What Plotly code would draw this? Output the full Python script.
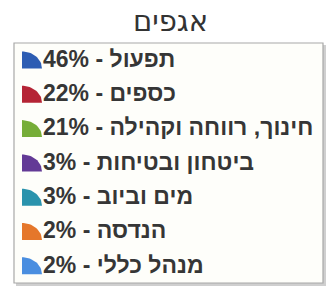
import math
import plotly.graph_objects as go

# ---- data ----
title_text = "אגפים"
categories = ["תפעול", "כספים", "חינוך, רווחה וקהילה", "ביטחון ובטיחות", "מים וביוב", "הנדסה", "מנהל כללי"]
shares = [46, 22, 21, 3, 3, 2, 2]
colors = ["#2d5db3", "#b52435", "#76ad38", "#633a96", "#2a93ad", "#e5772b", "#4a8ee0"]

W, H = 328, 289
row0, row_step = 61, 34.3
icon_x, icon_rx, icon_ry = 22, 20, 17
text_x = 43
FONT = "Liberation Sans, Arial, DejaVu Sans, sans-serif"

fig = go.Figure()

labels = [f"{v}% - {c}" for c, v in zip(categories, shares)]
row_y = [row0 + i * row_step for i in range(len(categories))]

# icons: quarter-ellipse wedge per row (axes map 1:1 to pixels)
for i, col in enumerate(colors):
    yb = row_y[i] + icon_ry / 2 - 1
    xs, ys = [icon_x], [yb]
    for k in range(0, 21):
        a = math.pi / 2 * k / 20
        xs.append(icon_x + icon_rx * math.sin(a))
        ys.append(yb - icon_ry * math.cos(a))
    xs.append(icon_x); ys.append(yb)
    fig.add_trace(go.Scatter(
        x=xs, y=ys, mode="lines", fill="toself", fillcolor=col,
        line=dict(width=0, color=col), hoverinfo="skip", showlegend=False,
    ))

fig.add_trace(go.Scatter(
    x=[text_x] * len(labels), y=row_y, mode="text", text=labels,
    textposition="middle right",
    textfont=dict(family=FONT, size=23, color="#363636", weight="bold"),
    hoverinfo="skip", showlegend=False,
))

fig.update_layout(
    width=W, height=H, margin=dict(l=0, r=0, t=0, b=0),
    paper_bgcolor="white", plot_bgcolor="rgba(0,0,0,0)",
    xaxis=dict(range=[0, W], visible=False, fixedrange=True),
    yaxis=dict(range=[H, 0], visible=False, fixedrange=True),
    shapes=[
        dict(type="rect", xref="x", yref="y", x0=16, y0=45, x1=326, y1=286,
             fillcolor="#cfcfcf", line=dict(width=0), layer="below"),
        dict(type="rect", xref="x", yref="y", x0=14, y0=43, x1=323, y1=283,
             fillcolor="#fefefa", line=dict(color="#a8a8a8", width=1.2), layer="below"),
    ],
    annotations=[dict(text=title_text, x=170, y=21, xref="x", yref="y", showarrow=False,
                      font=dict(family="DejaVu Sans, sans-serif", size=29, color="#333333"))],
)

fig.write_html("out.html", config={"displayModeBar": False},
               post_script="document.body.style.margin='0';")
